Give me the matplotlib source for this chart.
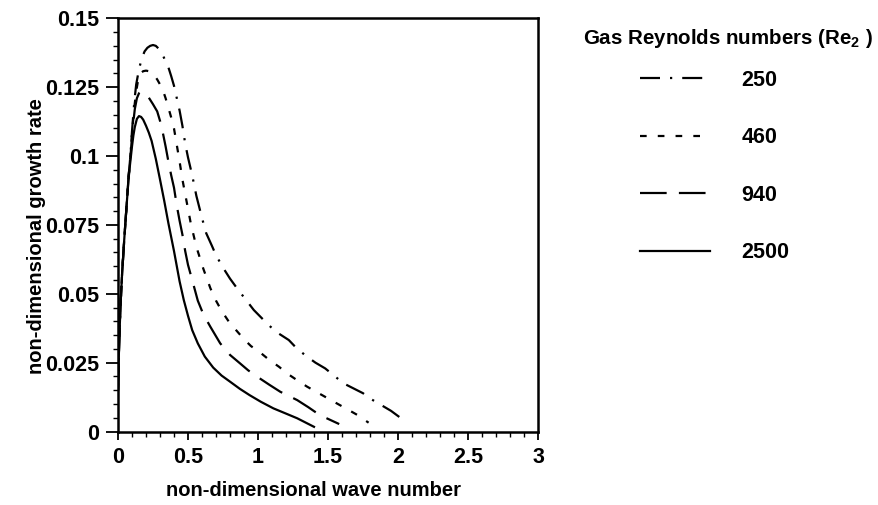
import matplotlib
matplotlib.use("Agg")
import matplotlib.pyplot as plt
from matplotlib.ticker import MultipleLocator

plt.rcParams['font.family'] = ['Liberation Sans', 'DejaVu Sans']
plt.rcParams['font.weight'] = 'bold'
plt.rcParams['axes.labelweight'] = 'bold'
plt.rcParams['mathtext.fontset'] = 'custom'
plt.rcParams['mathtext.rm'] = 'Liberation Sans:bold'
plt.rcParams['mathtext.default'] = 'rm'

# ---- data ----
x_250 = [0.0, 0.005, 0.01, 0.02, 0.03, 0.045, 0.06, 0.075, 0.09, 0.1, 0.117, 0.13, 0.15, 0.17,
         0.19, 0.21, 0.23, 0.25, 0.27, 0.29, 0.31, 0.33, 0.36, 0.38, 0.40, 0.42, 0.44, 0.46,
         0.48, 0.50, 0.53, 0.56, 0.60, 0.63, 0.67, 0.70, 0.75, 0.80, 0.85, 0.90, 0.97, 1.03,
         1.09, 1.15, 1.22, 1.28, 1.35, 1.41, 1.48, 1.55, 1.61, 1.68, 1.75, 1.80, 1.86, 1.95, 2.03]
y_250 = [0.015, 0.026, 0.035, 0.048, 0.058, 0.07, 0.081, 0.092, 0.101, 0.109, 0.12, 0.126,
         0.1315, 0.1355, 0.138, 0.1393, 0.14, 0.1403, 0.14, 0.139, 0.1378, 0.1355, 0.1322,
         0.129, 0.1255, 0.121, 0.1165, 0.111, 0.1045, 0.0995, 0.093, 0.0855, 0.0775, 0.072,
         0.0675, 0.064, 0.0595, 0.0555, 0.052, 0.0487, 0.0441, 0.041, 0.038, 0.0355, 0.0332,
         0.030, 0.0272, 0.025, 0.0229, 0.020, 0.0175, 0.0157, 0.0139, 0.012, 0.0102, 0.0075, 0.0045]

x_460 = [0.0, 0.005, 0.01, 0.02, 0.03, 0.045, 0.06, 0.075, 0.09, 0.1, 0.115, 0.13, 0.145, 0.16,
         0.18, 0.20, 0.22, 0.24, 0.26, 0.28, 0.30, 0.32, 0.34, 0.36, 0.38, 0.40, 0.42, 0.44,
         0.46, 0.49, 0.52, 0.56, 0.61, 0.66, 0.70, 0.74, 0.79, 0.84, 0.90, 0.95, 1.02, 1.08,
         1.15, 1.21, 1.28, 1.35, 1.43, 1.50, 1.57, 1.63, 1.71, 1.79]
y_460 = [0.015, 0.026, 0.035, 0.048, 0.058, 0.07, 0.081, 0.092, 0.101, 0.108, 0.117, 0.1235,
         0.128, 0.13, 0.1308, 0.131, 0.1308, 0.1303, 0.1292, 0.1278, 0.126, 0.124, 0.121,
         0.1175, 0.114, 0.110, 0.104, 0.098, 0.0915, 0.0835, 0.0755, 0.067, 0.059, 0.052,
         0.0475, 0.0438, 0.040, 0.037, 0.0335, 0.031, 0.0285, 0.026, 0.0235, 0.021, 0.0186,
         0.0163, 0.014, 0.012, 0.010, 0.0083, 0.006, 0.0032]

x_940 = [0.0, 0.005, 0.01, 0.02, 0.03, 0.045, 0.06, 0.075, 0.09, 0.1, 0.11, 0.12, 0.135, 0.15,
         0.165, 0.18, 0.20, 0.22, 0.25, 0.28, 0.30, 0.32, 0.34, 0.36, 0.38, 0.40, 0.42, 0.44,
         0.46, 0.48, 0.50, 0.53, 0.57, 0.61, 0.66, 0.73, 0.80, 0.87, 0.93, 1.00, 1.08, 1.16,
         1.28, 1.36, 1.44, 1.58]
y_940 = [0.015, 0.026, 0.035, 0.048, 0.058, 0.07, 0.081, 0.092, 0.1005, 0.107, 0.1125, 0.117,
         0.121, 0.1228, 0.1234, 0.1232, 0.1225, 0.1212, 0.1188, 0.1162, 0.1128, 0.1085,
         0.1035, 0.098, 0.093, 0.0885, 0.082, 0.0765, 0.0715, 0.0655, 0.0605, 0.055, 0.0475,
         0.0425, 0.038, 0.032, 0.0278, 0.0248, 0.0222, 0.0197, 0.017, 0.0144, 0.0114,
         0.0088, 0.006, 0.0027]

x_2500 = [0.0, 0.005, 0.01, 0.02, 0.03, 0.045, 0.06, 0.075, 0.085, 0.1, 0.11, 0.12, 0.135,
          0.15, 0.165, 0.18, 0.20, 0.22, 0.24, 0.27, 0.30, 0.33, 0.36, 0.40, 0.44, 0.47, 0.50,
          0.53, 0.57, 0.62, 0.68, 0.74, 0.80, 0.87, 0.94, 1.02, 1.11, 1.20, 1.28, 1.40]
y_2500 = [0.015, 0.026, 0.035, 0.048, 0.058, 0.07, 0.081, 0.0915, 0.0965, 0.1035, 0.1075, 0.1105,
          0.1135, 0.1145, 0.1142, 0.1132, 0.111, 0.1085, 0.1055, 0.099, 0.0915, 0.0838,
          0.0756, 0.0655, 0.0545, 0.0477, 0.042, 0.0368, 0.032, 0.0272, 0.0232, 0.0203,
          0.0181, 0.0155, 0.0132, 0.0108, 0.0084, 0.0065, 0.0048, 0.0017]

labels = ['250', '460', '940', '2500']
legend_title = 'Gas Reynolds numbers (Re$_2$ )'
x_ticks = [0, 0.5, 1, 1.5, 2, 2.5, 3]
x_tick_labels = ['0', '0.5', '1', '1.5', '2', '2.5', '3']
y_ticks = [0, 0.025, 0.05, 0.075, 0.1, 0.125, 0.15]
y_tick_labels = ['0', '0.025', '0.05', '0.075', '0.1', '0.125', '0.15']

W, H = 879, 505
fig = plt.figure(figsize=(W/100, H/100), dpi=100)
ax = fig.add_axes([118/W, 1-431.5/H, (538-118)/W, (431.5-18.3)/H])

lw = 1.6
ax.plot(x_250, y_250, color='black', lw=lw, dashes=(9, 4.5, 1, 4.5), label=labels[0])
ax.plot(x_460, y_460, color='black', lw=lw, dashes=(3, 5), label=labels[1])
ax.plot(x_940, y_940, color='black', lw=lw, dashes=(12, 5.5), label=labels[2])
ax.plot(x_2500, y_2500, color='black', lw=lw, label=labels[3])

ax.set_xlim(0, 3)
ax.set_ylim(0, 0.15)
ax.set_xticks(x_ticks)
ax.set_xticklabels(x_tick_labels)
ax.set_yticks(y_ticks)
ax.set_yticklabels(y_tick_labels)
ax.xaxis.set_minor_locator(MultipleLocator(0.1))
ax.yaxis.set_minor_locator(MultipleLocator(0.005))
ax.tick_params(axis='x', which='major', direction='out', length=6, width=1.3,
               labelsize=15.5, pad=5.5, top=False)
ax.tick_params(axis='y', which='major', direction='out', length=9, width=1.3,
               labelsize=15.5, pad=4.5, right=False)
ax.tick_params(axis='both', which='minor', direction='out', length=3.5, width=1.0,
               top=False, right=False)
for s in ax.spines.values():
    s.set_linewidth(1.8)

ax.set_xlabel('non-dimensional wave number', fontsize=14.5)
ax.set_ylabel('non-dimensional growth rate', fontsize=14.5)
ax.xaxis.set_label_coords((313-118)/420, -(481-431.5)/413.2)
ax.yaxis.set_label_coords(-(118-46)/420, (431.5-236)/413.2)

fig.text(728/W, 1-38/H, legend_title, ha='center', va='center', fontsize=14.8,
         fontweight='bold')
leg = ax.legend(loc='upper left', bbox_to_anchor=(640/W, 1-69.5/H),
                bbox_transform=fig.transFigure, frameon=False,
                fontsize=15.5, handlelength=3.25, handletextpad=1.45, labelspacing=1.7,
                borderaxespad=0, borderpad=0)

fig.savefig('out.png', dpi=100)
